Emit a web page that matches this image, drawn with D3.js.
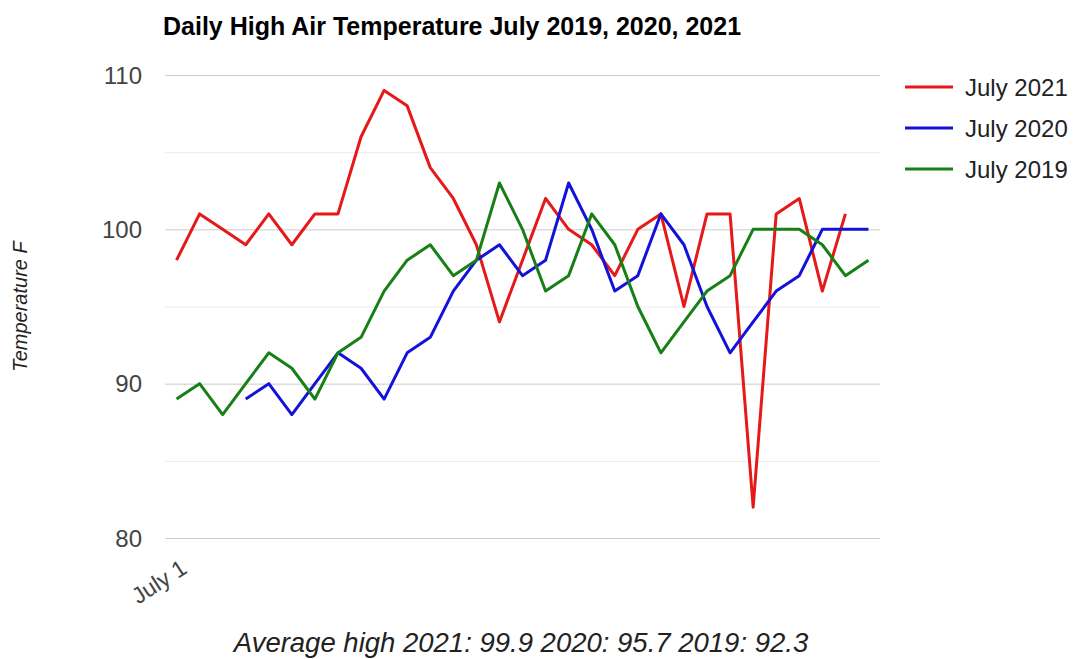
<!DOCTYPE html>
<html>
<head>
<meta charset="utf-8">
<script src="https://cdn.jsdelivr.net/npm/d3@7"></script>
<style>
  body { margin: 0; background: #fff; }
  text { font-family: Arial, "Liberation Sans", sans-serif; }
</style>
</head>
<body>
<svg id="chart"></svg>
<script>
// days of July (category axis), only the first one gets a label
const days = [1,2,3,4,5,6,7,8,9,10,11,12,13,14,15,16,17,18,19,20,21,22,23,24,25,26,27,28,29,30,31];
const dayLabels = ["July 1"];

// daily highs, F (null = no reading)
const july2021 = [98,101,100,99,101,99,101,101,106,109,108,104,102,99,94,98,102,100,99,97,100,101,95,101,101,82,101,102,96,101];
const july2020 = [null,null,null,89,90,88,90,92,91,89,92,93,96,98,99,97,98,103,100,96,97,101,99,95,92,94,96,97,100,100,100];
const july2019 = [89,90,88,90,92,91,89,92,93,96,98,99,97,98,103,100,96,97,101,99,95,92,94,96,97,100,100,100,99,97,98];

const seriesNames = ["July 2021", "July 2020", "July 2019"];
const seriesColors = ["#e61818", "#1212d9", "#168016"];
const yTicks = [80, 90, 100, 110];
const yMinorTicks = [85, 95, 105];

const title = "Daily High Air Temperature July 2019, 2020, 2021";
const yTitle = "Temperature F";
const caption = "Average high 2021: 99.9 2020: 95.7 2019: 92.3";

const width = 1073, height = 659;
const plot = {left: 165, right: 880, top: 75, bottom: 538};

let svg = d3.select("#chart").attr("width", width).attr("height", height);

let xScale = d3.scalePoint()
    .domain(days)
    .range([plot.left, plot.right])
    .padding(0.5);
let yScale = d3.scaleLinear()
    .domain([80, 110])
    .range([plot.bottom, plot.top]);

// gridlines
svg.append("g").selectAll("line")
    .data(yMinorTicks)
    .join("line")
    .attr("x1", plot.left).attr("x2", plot.right)
    .attr("y1", d => yScale(d) + 0.5).attr("y2", d => yScale(d) + 0.5)
    .attr("stroke", "#ebebeb");
svg.append("g").selectAll("line")
    .data(yTicks)
    .join("line")
    .attr("x1", plot.left).attr("x2", plot.right)
    .attr("y1", d => yScale(d) + 0.5).attr("y2", d => yScale(d) + 0.5)
    .attr("stroke", "#cccccc");

// y labels
svg.append("g").selectAll("text")
    .data(yTicks)
    .join("text")
    .attr("x", 142)
    .attr("y", d => yScale(d))
    .attr("dy", "0.36em")
    .attr("text-anchor", "end")
    .attr("font-size", 24)
    .attr("fill", "#444")
    .text(d => d);

// x label (slanted)
svg.append("g").selectAll("text")
    .data(dayLabels)
    .join("text")
    .attr("transform", (d, i) => `translate(${xScale(days[i]) + 12},${plot.bottom + 34}) rotate(-33)`)
    .attr("text-anchor", "end")
    .attr("font-size", 23)
    .attr("fill", "#444")
    .text(d => d);

// lines
const allSeries = [july2021, july2020, july2019];
let line = d3.line()
    .defined(d => d.v != null)
    .x(d => xScale(d.day))
    .y(d => yScale(d.v));

svg.append("g").selectAll("path")
    .data(allSeries)
    .join("path")
    .attr("d", s => line(s.map((v, i) => ({day: days[i], v: v}))))
    .attr("fill", "none")
    .attr("stroke", (s, i) => seriesColors[i])
    .attr("stroke-width", 3)
    .attr("stroke-linejoin", "round");

// legend
let legend = svg.append("g").selectAll("g")
    .data(seriesNames)
    .join("g")
    .attr("transform", (d, i) => `translate(905,${87 + i * 41})`);
legend.append("line")
    .attr("x1", 0).attr("x2", 48)
    .attr("stroke", (d, i) => seriesColors[i])
    .attr("stroke-width", 3);
legend.append("text")
    .attr("x", 60)
    .attr("dy", "0.36em")
    .attr("font-size", 24)
    .attr("fill", "#222")
    .text(d => d);

// titles
svg.append("text")
    .attr("x", 163).attr("y", 35)
    .attr("font-size", 25)
    .attr("font-weight", "bold")
    .attr("fill", "#000")
    .text(title);

svg.append("text")
    .attr("transform", `translate(27,${(plot.top + plot.bottom) / 2}) rotate(-90)`)
    .attr("text-anchor", "middle")
    .attr("font-size", 20)
    .attr("font-style", "italic")
    .attr("fill", "#222")
    .text(yTitle);

svg.append("text")
    .attr("x", 521).attr("y", 652)
    .attr("text-anchor", "middle")
    .attr("font-size", 27.5)
    .attr("font-style", "italic")
    .attr("fill", "#222")
    .text(caption);
</script>
</body>
</html>
